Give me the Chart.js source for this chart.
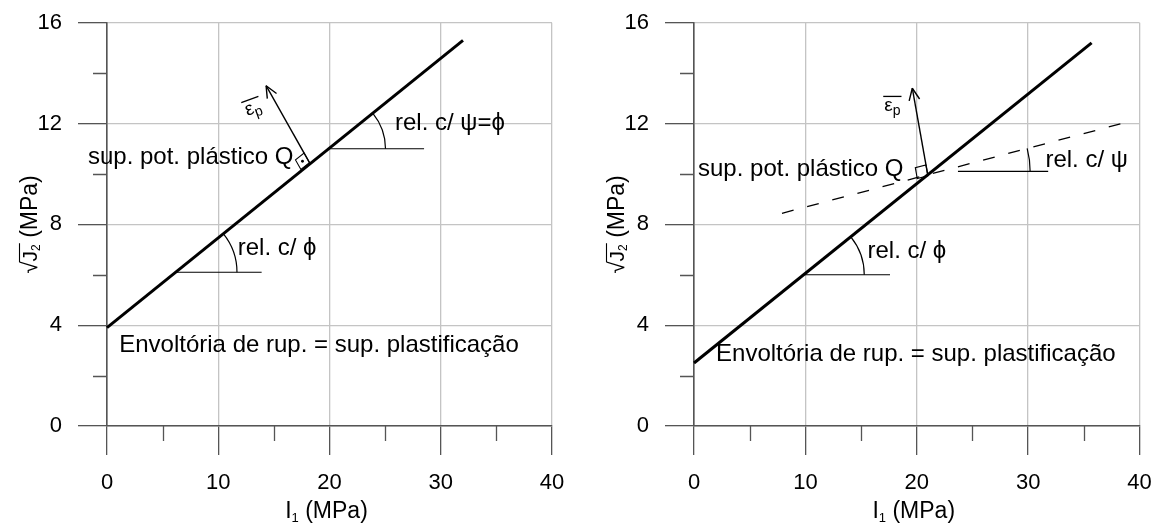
<!DOCTYPE html>
<html>
<head>
<meta charset="utf-8">
<script src="https://cdn.jsdelivr.net/npm/chart.js@4.4.0/dist/chart.umd.min.js"></script>
<style>
  html, body { margin: 0; padding: 0; background: #fff; }
  #wrap { position: relative; width: 1157px; height: 525px; }
  canvas { position: absolute; top: 0; }
  #chartLeft { left: 0; }
  #chartRight { left: 587px; }
</style>
</head>
<body>
<div id="wrap">
  <canvas id="chartLeft" width="578" height="525"></canvas>
  <canvas id="chartRight" width="570" height="525"></canvas>
</div>
<script>
// axes
const xTicks = [0, 10, 20, 30, 40];
const yTicks = [0, 4, 8, 12, 16];
const xMinorTicks = [5, 15, 25, 35];
const yMinorTicks = [2, 6, 10, 14];

// left panel: associated flow (psi = phi)
const envelopeLeft = [{ x: 0, y: 3.9 }, { x: 32, y: 15.3 }];
const phiBaseLeft = [{ x: 6.2, y: 6.1 }, { x: 13.9, y: 6.1 }];
const psiBaseLeft = [{ x: 20, y: 11.0 }, { x: 28.5, y: 11.0 }];
const strainLeft = [{ x: 18.2, y: 10.45 }, { x: 14.3, y: 13.5 }];

// right panel: non-associated flow
const envelopeRight = [{ x: 0, y: 2.5 }, { x: 35.7, y: 15.2 }];
const potentialRight = [{ x: 7.9, y: 8.44 }, { x: 39, y: 12.07 }];
const phiBaseRight = [{ x: 9.9, y: 6.0 }, { x: 17.6, y: 6.0 }];
const psiBaseRight = [{ x: 23.7, y: 10.1 }, { x: 31.8, y: 10.1 }];
const strainRight = [{ x: 21.0, y: 9.93 }, { x: 19.6, y: 13.4 }];

const FONT = '"Liberation Sans", Arial, sans-serif';
const TEXT_SIZE = 24;
Chart.defaults.font.family = FONT;

function toPx(chart, p) {
  return { x: chart.scales.x.getPixelForValue(p.x), y: chart.scales.y.getPixelForValue(p.y) };
}
function unit(dx, dy) {
  const l = Math.hypot(dx, dy);
  return { x: dx / l, y: dy / l };
}

// draws a row of text pieces (used for subscripts); returns the x span of each piece
function drawRuns(ctx, runs, x, y, align) {
  let w = 0;
  runs.forEach(r => { ctx.font = r.size + 'px ' + FONT; r.w = ctx.measureText(r.t).width; w += r.w; });
  let cx = align === 'center' ? x - w / 2 : x;
  const spans = [];
  runs.forEach(r => {
    ctx.font = r.size + 'px ' + FONT;
    ctx.fillText(r.t, cx, y + (r.dy || 0));
    spans.push({ x0: cx, x1: cx + r.w });
    cx += r.w;
  });
  return spans;
}

const sketchPlugin = {
  id: 'sketch',
  afterDraw(chart, args, o) {
    const ctx = chart.ctx;
    const area = chart.chartArea;
    const sx = chart.scales.x, sy = chart.scales.y;
    ctx.save();
    ctx.fillStyle = '#000';
    ctx.textAlign = 'left';
    ctx.textBaseline = 'alphabetic';

    // minor ticks
    ctx.strokeStyle = '#555';
    ctx.lineWidth = 1.3;
    ctx.beginPath();
    yMinorTicks.forEach(v => {
      const y = Math.round(sy.getPixelForValue(v)) + 0.5;
      ctx.moveTo(area.left - 14, y); ctx.lineTo(area.left, y);
    });
    xMinorTicks.forEach(v => {
      const x = Math.round(sx.getPixelForValue(v)) + 0.5;
      ctx.moveTo(x, area.bottom); ctx.lineTo(x, area.bottom + 15);
    });
    ctx.stroke();

    // angle arcs
    ctx.strokeStyle = '#000';
    ctx.lineWidth = 1.2;
    o.arcs.forEach(a => {
      const c = toPx(chart, a.at);
      const p0 = toPx(chart, a.to[0]), p1 = toPx(chart, a.to[1]);
      const ang = Math.atan2(p1.y - p0.y, p1.x - p0.x);
      ctx.beginPath();
      ctx.arc(c.x, c.y, a.r, ang, 0);
      ctx.stroke();
    });

    // plastic strain arrow head
    const f = toPx(chart, o.arrow[0]), t = toPx(chart, o.arrow[1]);
    const n = unit(t.x - f.x, t.y - f.y);
    const head = 13, spread = 0.42;
    ctx.lineWidth = 1.4;
    ctx.beginPath();
    [-spread, spread].forEach(s => {
      const c = Math.cos(Math.PI + s), si = Math.sin(Math.PI + s);
      ctx.moveTo(t.x, t.y);
      ctx.lineTo(t.x + head * (n.x * c - n.y * si), t.y + head * (n.x * si + n.y * c));
    });
    ctx.stroke();

    // right-angle marker at the foot of the arrow
    const a0 = toPx(chart, o.square.along[0]), a1 = toPx(chart, o.square.along[1]);
    const u = unit(a0.x - a1.x, a0.y - a1.y);
    const s = o.square.size;
    ctx.lineWidth = 1.1;
    ctx.beginPath();
    ctx.moveTo(f.x, f.y);
    ctx.lineTo(f.x + s * u.x, f.y + s * u.y);
    ctx.lineTo(f.x + s * u.x + s * n.x, f.y + s * u.y + s * n.y);
    ctx.lineTo(f.x + s * n.x, f.y + s * n.y);
    ctx.closePath();
    ctx.stroke();
    if (o.square.dot) {
      ctx.beginPath();
      ctx.arc(f.x + (u.x + n.x) * s / 2, f.y + (u.y + n.y) * s / 2, 1.4, 0, Math.PI * 2);
      ctx.fill();
    }

    // strain label with overbar
    const e = toPx(chart, o.eps.at);
    ctx.save();
    ctx.translate(e.x, e.y);
    ctx.rotate(o.eps.angle);
    const sp = drawRuns(ctx, [{ t: 'ε', size: 19 }, { t: 'p', size: 14, dy: 4 }], 0, 0, 'left');
    ctx.lineWidth = 1.3;
    ctx.beginPath();
    ctx.moveTo(sp[0].x0 - 1, -14.5); ctx.lineTo(sp[1].x1 + 1, -14.5);
    ctx.stroke();
    ctx.restore();

    // annotations
    o.texts.forEach(tx => {
      const p = toPx(chart, tx.at);
      ctx.font = TEXT_SIZE + 'px ' + FONT;
      ctx.fillText(tx.text, p.x, p.y);
    });

    // x axis title: I1 (MPa)
    drawRuns(ctx, [
      { t: 'I', size: 23 }, { t: '1', size: 13, dy: 4 }, { t: ' (MPa)', size: 23 }
    ], (area.left + area.right) / 2 - 3, area.bottom + 92, 'center');

    // y axis title: sqrt(J2) (MPa)
    ctx.save();
    ctx.translate(area.left - 70, (area.top + area.bottom) / 2);
    ctx.rotate(-Math.PI / 2);
    const ys = drawRuns(ctx, [
      { t: '√', size: 22 }, { t: 'J', size: 21 }, { t: '2', size: 12, dy: 3 }, { t: ' (MPa)', size: 23 }
    ], 0, 0, 'center');
    ctx.lineWidth = 1.1;
    ctx.beginPath();
    ctx.moveTo(ys[1].x0 - 1, -17.5); ctx.lineTo(ys[2].x1 + 1, -17.5);
    ctx.stroke();
    ctx.restore();

    ctx.restore();
  }
};

function line(data, width, dash) {
  return {
    data, showLine: true, pointRadius: 0, borderColor: '#000', backgroundColor: '#000',
    borderWidth: width, borderDash: dash || [], fill: false, clip: false
  };
}

function makeChart(id, datasets, padRight, sketch) {
  return new Chart(document.getElementById(id), {
    type: 'scatter',
    data: { datasets },
    options: {
      responsive: false,
      animation: false,
      events: [],
      layout: { padding: { top: 22.7, right: padRight, bottom: 0, left: 0 } },
      plugins: { legend: { display: false }, tooltip: { enabled: false }, sketch },
      scales: {
        x: {
          type: 'linear', min: 0, max: 40,
          afterBuildTicks: s => { s.ticks = xTicks.map(v => ({ value: v })); },
          afterFit: s => { s.height = 99; s.paddingLeft = 0; s.paddingRight = 0; },
          grid: { color: '#c4c4c4', lineWidth: 1.3, tickColor: '#555', tickWidth: 1.3, tickLength: 29 },
          border: { color: '#555', width: 1.6 },
          ticks: { color: '#000', padding: 15, maxRotation: 0, font: { size: 22 } }
        },
        y: {
          type: 'linear', min: 0, max: 16,
          afterBuildTicks: s => { s.ticks = yTicks.map(v => ({ value: v })); },
          afterFit: s => { s.width = 107; s.paddingTop = 0; s.paddingBottom = 0; },
          grid: { color: '#c4c4c4', lineWidth: 1.3, tickColor: '#555', tickWidth: 1.3, tickLength: 29 },
          border: { color: '#555', width: 1.6 },
          ticks: { color: '#000', padding: 16, font: { size: 22 } }
        }
      }
    },
    plugins: [sketchPlugin]
  });
}

makeChart('chartLeft', [
  line(envelopeLeft, 3),
  line(phiBaseLeft, 1.2),
  line(psiBaseLeft, 1.2),
  line(strainLeft, 1.4)
], 26, {
  arcs: [
    { at: phiBaseLeft[0], r: 61, to: envelopeLeft },
    { at: psiBaseLeft[0], r: 56, to: envelopeLeft }
  ],
  arrow: strainLeft,
  square: { along: envelopeLeft, size: 11, dot: true },
  eps: { at: { x: 12.6, y: 12.3 }, angle: -0.35 },
  texts: [
    { text: 'sup. pot. plástico Q', at: { x: -1.71, y: 10.39 } },
    { text: 'rel. c/ ψ=ϕ', at: { x: 25.89, y: 11.74 } },
    { text: 'rel. c/ ϕ', at: { x: 11.75, y: 6.78 } },
    { text: 'Envoltória de rup. = sup. plastificação', at: { x: 1.1, y: 2.95 } }
  ]
});

makeChart('chartRight', [
  line(envelopeRight, 3),
  line(potentialRight, 1.3, [12, 14]),
  line(phiBaseRight, 1.2),
  line(psiBaseRight, 1.2),
  line(strainRight, 1.4)
], 17.5, {
  arcs: [
    { at: phiBaseRight[0], r: 60, to: envelopeRight },
    { at: { x: 22.1, y: 10.1 }, r: 90, to: potentialRight }
  ],
  arrow: strainRight,
  square: { along: potentialRight, size: 11, dot: false },
  eps: { at: { x: 17.08, y: 12.5 }, angle: 0 },
  texts: [
    { text: 'sup. pot. plástico Q', at: { x: 0.36, y: 9.93 } },
    { text: 'rel. c/ ψ', at: { x: 31.55, y: 10.28 } },
    { text: 'rel. c/ ϕ', at: { x: 15.58, y: 6.65 } },
    { text: 'Envoltória de rup. = sup. plastificação', at: { x: 1.98, y: 2.58 } }
  ]
});
</script>
</body>
</html>
